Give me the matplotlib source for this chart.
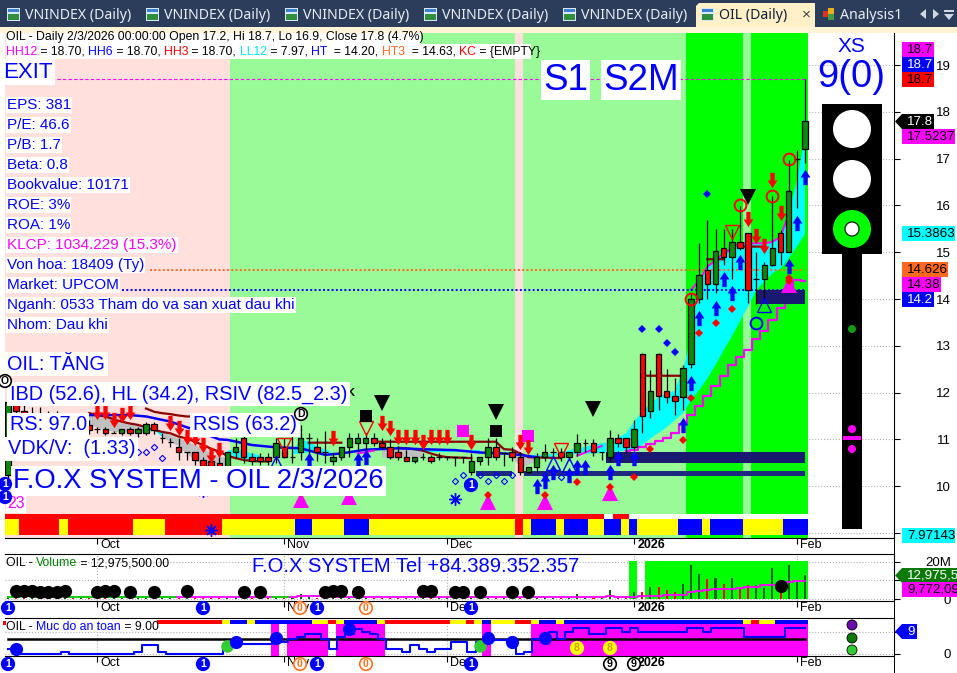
import numpy as np
import matplotlib
matplotlib.use("Agg")
import matplotlib.pyplot as plt
from matplotlib.path import Path
from matplotlib.patches import Rectangle, Circle, Polygon
from matplotlib.transforms import ScaledTranslation

plt.rcParams['font.family'] = ['Liberation Sans', 'DejaVu Sans']
nan = float('nan')

# ---------- data ----------
opens = [10.24,11.8,11.6,11.5,11.55,11.4,11.45,11.3,11.35,11.3,11.31,11.22,11.22,11.14,11.13,11.22,11.13,11.13,11.32,11.02,
 10.95,10.83,10.72,10.72,10.55,10.53,10.5,10.42,10.72,11.02,10.62,10.62,10.62,10.62,10.83,10.62,10.72,11.02,10.83,10.72,
 10.53,10.62,10.83,10.92,10.92,11.02,10.92,10.83,10.72,10.62,10.53,10.62,10.62,10.62,10.62,10.62,10.62,10.31,10.53,10.62,
 10.83,10.70,10.72,10.62,10.31,10.42,10.62,10.72,10.72,10.62,10.72,10.92,10.92,10.72,10.62,11.02,11.02,10.83,12.82,11.61,
 12.82,12.03,11.93,11.91,12.62,14.01,14.61,14.31,15.10,14.9,15.21,15.4,14.42,14.42,14.72,15.4,15.01,17.0,17.2]
highs = [11.9,11.9,11.8,11.7,11.7,11.6,11.6,11.5,11.5,11.45,11.41,11.27,11.27,11.17,11.22,11.27,11.27,11.38,11.38,11.13,
 11.02,11.02,10.72,10.72,10.62,10.60,10.62,10.72,11.02,11.13,10.70,10.70,10.70,11.02,11.02,11.13,11.31,11.13,11.02,11.17,
 10.70,10.83,11.13,11.13,11.13,11.13,11.02,11.0,10.85,10.78,10.62,10.70,10.66,10.70,10.62,10.62,10.62,10.70,10.62,11.02,
 11.02,10.70,10.83,10.74,10.42,10.70,10.90,10.81,10.81,10.72,11.11,11.01,11.01,10.72,11.20,11.11,11.02,11.41,12.85,12.48,
 12.85,12.5,12.31,12.6,14.1,15.19,15.69,15.49,15.49,15.49,15.99,15.4,15.0,14.8,16.2,15.47,16.98,17.18,18.7]
lows = [10.1,11.5,11.4,11.3,11.3,11.2,11.2,11.1,11.2,11.1,11.11,11.14,11.09,11.13,11.09,11.09,11.06,11.09,11.11,10.93,
 10.84,10.56,10.56,10.45,10.28,10.2,10.2,10.3,10.60,10.49,10.45,10.45,10.45,10.49,10.60,10.49,10.56,10.60,10.53,10.49,
 10.45,10.56,10.62,10.78,10.78,10.85,10.80,10.58,10.55,10.53,10.50,10.55,10.50,10.55,10.55,10.43,10.49,10.24,10.45,10.45,
 10.55,10.43,10.53,10.24,10.28,10.31,10.53,10.62,10.53,10.55,10.65,10.72,10.65,10.56,10.53,10.83,10.70,10.78,11.13,11.45,
 11.63,11.77,11.52,11.63,12.53,13.92,14.01,14.13,14.73,14.43,15.05,13.91,13.9,14.0,14.7,14.73,15.01,15.94,16.9]
closes = [11.8,11.6,11.5,11.55,11.4,11.45,11.3,11.35,11.3,11.31,11.21,11.22,11.13,11.14,11.22,11.13,11.22,11.32,11.20,11.02,
 10.95,10.72,10.72,10.55,10.42,10.35,10.4,10.72,10.83,10.62,10.53,10.53,10.53,10.92,10.62,10.62,11.02,11.02,10.72,10.72,
 10.62,10.83,11.02,11.02,11.02,10.92,10.83,10.62,10.62,10.53,10.62,10.62,10.53,10.62,10.62,10.62,10.62,10.53,10.62,10.83,
 10.62,10.70,10.62,10.31,10.42,10.62,10.72,10.72,10.62,10.72,10.92,10.92,10.72,10.72,11.02,10.92,10.83,11.22,11.51,12.03,
 11.93,11.91,11.81,12.53,14.01,14.51,14.31,15.02,14.90,15.21,15.10,14.2,14.42,14.72,15.1,15.01,16.3,17.0,17.8]

regime = "p"*28 + "l"*35 + "p" + "l"*20 + "g"*7 + "l" + "g"*7
strip_upper = "r"*74 + "w" + "rr" + "w"*22
strip_lower = ("yy"+"r"*5+"y"+"r"*8+"y"*4+"r"*7+"y"*9+"bb"+"y"*4+"bbb"+"y"*18+"r"+"y"+"bbb"+"y"+"bbb"+"yy"+"bb"
               +"y"+"b"+"y"*5+"bbb"+"y"+"b"*4+"y"*5+"bbb")

stop_i = [17,18,19,20,21,22,23,nan,10,11,12,13,14,15,16,17,18,19,20,21,22,23,24,25,26,27,28,29,30,31,32,nan,
          37,41,nan,45,48,60,61,62,63,64,68,nan,48,49,50,51,52,53,54,57,nan,78,83,nan,86,88,nan,90,93]
stop_v = [11.66,11.59,11.56,11.54,11.51,11.49,11.49,nan,11.56,11.52,11.49,11.43,11.38,11.34,11.31,11.26,11.20,11.16,11.13,11.06,
          11.02,10.95,10.88,10.80,10.74,10.65,10.60,10.56,10.54,10.53,10.53,nan,10.93,10.93,nan,10.95,10.95,10.95,10.79,10.78,10.70,
          10.62,10.60,nan,10.82,10.81,10.79,10.76,10.70,10.65,10.62,10.60,nan,12.36,12.36,nan,14.85,14.85,nan,15.12,15.12]
blue_i = [10,15,17,20,23,26,27,30,33,36,39,41,44,48,51,55,58,62,65]
blue_v = [11.52,11.52,11.49,11.38,11.2,11.0,10.99,10.88,10.83,10.81,10.67,10.70,10.78,10.81,10.79,10.77,10.72,10.69,10.62]
step_i = list(range(76,99))
step_v = [10.76,10.77,10.83,10.9,10.97,11.02,11.13,11.32,11.52,11.72,11.93,12.15,12.36,12.59,12.75,12.92,13.14,13.32,13.55,13.8,13.91,14.41,14.38]
cloud_i = [18,19,20,nan,27,28,29,30,31,nan,35,36,37,38,39,40,nan,50,58,nan,64,67,nan,
           66,68,70,72,74,76,77,78,79,80,81,82,83,84,85,86,87,88,89,90,91,92,93,94,95,96,97,98]
cloud_up = [11.20,11.18,11.03,nan,10.76,10.78,10.75,10.70,10.66,nan,10.72,11.0,10.95,10.85,10.78,10.72,nan,10.78,10.78,nan,10.66,10.66,nan,
            10.67,10.72,10.81,10.88,10.95,11.13,11.38,11.59,11.77,11.91,11.98,12.04,12.48,13.2,14.4,14.69,14.83,14.97,15.08,15.19,15.19,15.19,15.19,15.22,15.33,15.83,16.54,17.52]
cloud_lo = [11.20,11.05,11.03,nan,10.72,10.62,10.58,10.55,10.60,nan,10.68,10.7,10.72,10.72,10.72,10.72,nan,10.72,10.72,nan,10.6,10.6,nan,
            10.65,10.67,10.69,10.70,10.72,10.76,10.79,10.88,11.02,11.14,11.26,11.41,11.56,11.84,12.06,12.3,12.59,12.91,13.2,13.52,13.84,14.19,14.37,14.55,14.65,14.87,15.12,15.39]
edge_i = [84,85,86,87,88,89,90,91,92,93,94,95,96]
edge_v = [14.2,14.4,14.69,14.83,14.97,15.08,15.19,15.19,15.19,15.19,15.22,15.33,15.83]
gray_i = [10,11,12,13,14,15,16,17,18,nan,19,20,21,22,23,24,25,26,27,nan,46,47,48,49,50,51,nan,62,63,64,65]
gray_up = [11.56,11.56,11.52,11.46,11.38,11.32,11.30,11.28,11.2,nan,11.14,11.1,11.02,10.97,10.88,10.8,10.7,10.63,10.6,nan,10.85,10.83,10.8,10.78,10.76,10.74,nan,10.7,10.66,10.62,10.6]
gray_lo = [11.31,11.25,11.2,11.16,11.15,11.15,11.15,11.15,11.18,nan,11.04,10.95,10.85,10.7,10.55,10.45,10.4,10.42,10.45,nan,10.62,10.58,10.6,10.62,10.62,10.62,nan,10.62,10.4,10.45,10.55]

down_i = [11,12,13,14,15,20,21,22,23,24,25,26,40,46,47,48,49,50,51,52,53,54,57,63,64,91,92,93,94,95]
down_v = [11.59,11.59,11.41,11.52,11.59,11.34,11.24,11.06,11.02,10.88,10.67,10.78,11.04,11.34,11.24,11.06,11.06,11.06,10.95,11.06,11.06,11.06,10.95,10.95,10.84,15.72,15.35,15.13,16.54,15.83]
up_i = [37,43,44,65,66,67,69,70,71,74,75,77,83,84,85,87,88,89,90,96,97,98]
up_v = [10.56,10.56,10.62,10.01,10.11,10.31,10.23,10.42,10.42,10.31,10.60,10.60,11.31,12.21,13.6,13.81,14.42,14.12,14.8,14.71,15.62,16.6]
tri_up_i = [33,67,69,93];  tri_up_v = [10.49,10.49,10.45,13.87]
tri_dn_i = [34,44,68,89];  tri_dn_v = [10.88,11.24,10.78,15.44]
blk_i = [46,60,72,91];     blk_v = [11.77,11.58,11.66,16.17]
blksq_i = [44,60];         blksq_v = [11.51,11.17]
magsq_i = [56,64];         magsq_v = [11.17,11.08]
odia_i = [16,17,18,19,55,56,58,59,60,61,62,66,68]
odia_v = [10.72,10.72,10.83,10.60,10.12,10.23,10.23,10.12,10.23,10.12,10.23,10.23,10.20]
sdia_i = [86,78,80,81,82]; sdia_v = [16.24,13.36,13.36,13.07,12.87]
rdia_i = [70,79,83,84,77,85,87,89,96]; rdia_v = [10.10,10.80,10.99,11.89,10.2,13.28,13.49,13.79,14.39]
magtri_i = [36,42,59,66,74,96]; magtri_v = [9.71,9.76,9.67,9.67,9.85,14.3]
rcirc_i = [84,90,94,96];   rcirc_v = [14.01,16.0,16.2,17.0]
bcirc_i = [92];            bcirc_v = [13.48]
snow_i = [24,25,55];       snow_v = [9.9,9.06,9.72]

volume = [1.2,0.8,0.6,1.0,0.7,0.5,0.9,1.4,0.6,0.7,0.5,0.9,1.1,0.6,0.5,0.8,0.7,0.6,1.0,0.9,0.5,0.6,0.5,0.4,0.7,0.6,0.5,0.8,0.9,0.6,0.5,0.7,0.6,1.3,0.8,0.7,2.5,0.9,0.6,0.7,
          0.5,0.6,0.8,0.5,0.6,0.7,0.5,0.6,0.5,0.4,0.6,0.5,0.7,0.6,0.5,0.6,0.7,0.8,0.5,0.7,0.6,0.5,0.7,0.6,0.5,0.8,1.3,0.6,0.7,0.5,2.5,0.8,0.7,0.6,4.9,0.7,0.9,
          4.0,4.0,6.7,6.7,4.9,4.0,8.1,18.4,13.7,10.8,11.2,8.1,11.2,6.1,7.6,7.6,6.1,16.6,3.1,18.4,9.4,13.0]
vol_ma = [1.3,1.3,1.4,1.4,1.3,1.3,1.2,1.5,1.3,1.2,1.2,1.2,1.1,1.1,1.2,1.2,1.2,1.1,1.1,1.2,1.1,1.2,1.1,1.1,1.2,1.1,1.1,1.2,1.3,1.2,1.1,1.1,1.1,1.2,1.2,1.2,1.4,1.5,1.4,1.4,
          1.3,1.3,1.2,1.2,1.3,1.2,1.1,1.1,1.2,1.2,1.3,1.2,1.2,1.1,1.1,1.0,1.1,1.1,1.1,1.1,1.1,1.1,1.1,1.2,1.2,1.2,1.3,1.2,1.1,1.2,1.3,1.2,1.2,1.2,1.4,1.3,1.3,
          1.3,1.5,1.7,1.8,1.9,2.0,2.2,3.6,4.2,4.8,5.2,5.4,5.6,6.1,6.4,6.7,7.4,7.8,8.5,9.2,9.6,9.77]
vol_bg = [77]+list(range(79,99))
vdot_i = [1,2,3,4,5,6,7,11,12,13,15,18,22,29,31,39,40,41,43,51,52,55,56,58,62,64,95]
vdot_v = [4.2,4.5,4.3,3.9,3.7,4.0,4.1,3.7,4.1,4.1,3.9,4.0,4.2,4.0,4.0,4.0,4.1,4.1,3.9,4.1,4.1,3.9,3.7,3.7,3.7,4.0,7.0]

safety = [2,2,0,0,0,0,0,1,0,0,0,0,0,0,0,0,1,3.6,3.6,1,0,0,0,0,0,0,0,4.2,3.9,3.9,3.9,3.9,3.9,5,5,6,7,8,8,6,
          2,7,8,10,9,8,6,2,2,1,3.6,2,1,2,2,5,5,1,5,6,5.6,5.6,5.6,0,1,6,7,9,6,9,10.5,10.5,8,8,10.5,10.5,9,10.5,9,9,
          9,9,9,9,10.5,10.5,9,10.5,10.5,10.5,10.5,7,7,7,7,7,10.5,10.5,10.5]
safe_strip = ("w"*19+"r"*8+"y"+"bb"+"y"+"b"*7+"yy"+"r"+"y"+"b"*4+"y"+"r"*8+"yy"+"r"+"y"+"b"+"yyy"+"rr"+"y"+"bb"+"y"
              +"b"*22+"y"+"r"+"yy"+"bbbb")
safe_mag = [33,35,36,37,38,39,41,42,43,44,45,46,59]+list(range(65,99))
safe_blue_i = [1,28,33,42,59,62,66]; safe_blue_v = [2.2,4.7,6.6,10,6.6,4.7,6.5]
safe_green_i = [27,58];              safe_green_v = [3.4,3.4]
safe_line_i = [0,98];                safe_line_v = [6,6]

month_pos = [11,34,54,77,97]
month_lab = ["Oct","Nov","Dec","2026","Feb"]
price_ticks = list(range(9,20))
price_labs = [""]+[str(v) for v in range(10,20)]
stat_lines = ["EPS: 381","P/E: 46.6","P/B: 1.7","Beta: 0.8","Bookvalue: 10171","ROE: 3%","ROA: 1%","KLCP: 1034.229 (15.3%)",
              "Von hoa: 18409 (Ty)","Market: UPCOM","Nganh: 0533 Tham do va san xuat dau khi","Nhom: Dau khi"]

# ---------- layout ----------
W, H = 957, 673
fig = plt.figure(figsize=(W/100, H/100), dpi=100, facecolor='white')
def mk(y0, y1):
    return fig.add_axes([5/W, 1-y1/H, (894-5)/W, (y1-y0)/H])
ax = mk(33, 538); av = mk(554, 601); asf = mk(618, 656)
XL = (-0.34, 108.94)
COL = {'r':'#ff0000','y':'#ffff00','b':'#0000ff','w':'#ffffff'}
BG = {'p':'#ffe0dc','l':'#98fb98','g':'#00ff00'}
OFF = -0.15
for a in (ax, av, asf):
    a.set_xlim(*XL)
    a.set_xticks(month_pos); a.set_xticklabels(month_lab, fontsize=9)
    a.tick_params(axis='x', length=4, width=0.8, pad=-3)
    for lab_ in a.get_xticklabels():
        lab_.set_ha('left')
        lab_.set_transform(lab_.get_transform()+ScaledTranslation(3/100,0,fig.dpi_scale_trans))
        if lab_.get_text()=="2026": lab_.set_fontweight('bold')
    a.yaxis.tick_right()
    a.tick_params(axis='y', length=4, width=0.8, labelsize=9.5, pad=37)
    a.grid(True, color='#b0b0b0', ls=':', lw=0.8, zorder=0)
    a.set_axisbelow(True)
    a.spines['left'].set_visible(False)
ax.spines['top'].set_visible(False)

def bands(a, idx, colors, y0, h, z=1):
    tr = a.get_xaxis_transform()
    a.bar(np.array(idx)+OFF, h, width=1.0, bottom=y0, color=colors, transform=tr,
          linewidth=0, antialiased=False, zorder=z)

n = len(closes); I = np.arange(n)
# --- main panel
bands(ax, I, [BG[c] for c in regime], 0, 1)
bands(ax, I, [COL[c] for c in strip_upper], 0.0376, 0.0099, 2)
bands(ax, I, [COL[c] for c in strip_lower], 0.0059, 0.0317, 2)
ax.fill_between(cloud_i, cloud_up, cloud_lo, color='#00ffff', lw=0, zorder=3)
ax.fill_between(gray_i, gray_up, gray_lo, color='#c0c0c0', lw=0, zorder=3)
ax.plot(stop_i, stop_v, color='#8b0000', lw=1.6, zorder=4)
ax.plot(blue_i, blue_v, color='#0000ff', lw=1.8, zorder=4)
ax.plot(step_i, step_v, color='#ff00ff', lw=1.6, drawstyle='steps-mid', zorder=4)
ax.plot(edge_i, edge_v, color='#ff00ff', lw=1.4, zorder=4)
ax.plot([43,45,nan,70,73],[10.70,10.76,nan,10.65,10.86], color='#ff00ff', lw=1.4, zorder=4)

ax.hlines(18.7, 6, 98, color='#ff00ff', lw=0.8, ls=(0,(3,2)), zorder=5)
ax.hlines(14.626, 17.5, 98, color='#ff6820', lw=1.4, ls=(0,(1,1.2)), zorder=5)
ax.hlines(14.2, 14, 98, color='#0000ff', lw=1.4, ls=(0,(1,1.2)), zorder=5)

navy = '#191970'
for (a0,a1,p0,p1,c) in [(73.5,98,10.5,10.72,navy),(57.5,62,10.22,10.32,'#1e2a80'),(63.5,98,10.22,10.32,'#1e2a80'),(92,98,13.9,14.2,navy)]:
    ax.add_patch(Rectangle((a0,p0),a1-a0,p1-p0,color=c,lw=0,zorder=5))

opens_, closes_ = np.array(opens), np.array(closes)
up = closes_ >= opens_
ccol = ['#0b8a0b' if u else '#ff0000' for u in up]
ax.vlines(I, lows, highs, color='black', lw=0.9, zorder=6)
body_b = np.minimum(opens_, closes_); body_h = np.abs(closes_-opens_)
ax.bar(I, body_h, bottom=body_b, width=0.68, color=ccol, edgecolor='black', linewidth=0.9, zorder=7)

arrow_dn = Path([(-0.28,1),(0.28,1),(0.28,0.0),(0.64,0.0),(0,-1),(-0.64,0.0),(-0.28,0.0),(-0.28,1)], closed=True)
arrow_up = Path([(-0.28,-1),(0.28,-1),(0.28,0.0),(0.64,0.0),(0,1),(-0.64,0.0),(-0.28,0.0),(-0.28,-1)], closed=True)
ax.plot(down_i, down_v, ls='none', marker=arrow_dn, ms=11, color='#ff0000', mew=0, zorder=8)
ax.plot(up_i, up_v, ls='none', marker=arrow_up, ms=11, color='#0000ff', mew=0, zorder=8)
ax.plot(tri_up_i, tri_up_v, ls='none', marker='^', ms=10, mfc='none', mec='#0000ff', mew=1, zorder=8)
ax.plot(tri_dn_i, tri_dn_v, ls='none', marker='v', ms=10, mfc='none', mec='#ff0000', mew=1, zorder=8)
ax.plot(blk_i, blk_v, ls='none', marker='v', ms=11, color='black', mew=0, zorder=8)
ax.plot(blksq_i, blksq_v, ls='none', marker='s', ms=8.5, color='black', mew=0, zorder=8)
ax.plot(magsq_i, magsq_v, ls='none', marker='s', ms=8.5, color='#ff00ff', mew=0, zorder=5)
ax.plot(odia_i, odia_v, ls='none', marker='D', ms=3.2, mfc='none', mec='#0000ff', mew=0.8, zorder=8)
ax.plot(sdia_i, sdia_v, ls='none', marker='D', ms=3.6, color='#0000ff', mew=0, zorder=8)
ax.plot(magtri_i, magtri_v, ls='none', marker='^', ms=11, color='#ff00ff', mew=0, zorder=8)
ax.plot(magtri_i, np.array(magtri_v)+0.14, ls='none', marker='D', ms=3.6, color='#ff0000', mew=0, zorder=9)
ax.plot(rdia_i, rdia_v, ls='none', marker='D', ms=3.6, color='#ff0000', mew=0, zorder=9)
ax.plot(rcirc_i, rcirc_v, ls='none', marker='o', ms=8.5, mfc='none', mec='#ff0000', mew=1.4, zorder=9)
ax.plot(bcirc_i, bcirc_v, ls='none', marker='o', ms=8.5, mfc='none', mec='#0000ff', mew=1.4, zorder=9)
ax.plot(snow_i, snow_v, ls='none', marker=(8,2,0), ms=9, mec='#0000ff', mew=1, zorder=9)
ax.set_yticks(price_ticks); ax.set_yticklabels(price_labs)
ax.set_xlim(*XL); ax.set_ylim(8.893, 19.684)

# --- volume panel
av.bar(np.array(vol_bg)+OFF, 20.5, width=1.0, color='#00ff00', linewidth=0, antialiased=False, zorder=1)
av.bar(I, volume, width=0.25, color=['#006400' if u else '#ff0000' for u in up], linewidth=0, zorder=3)
ma = np.array(vol_ma)
av.plot(I, ma, color='#ff00ff', lw=1.3, drawstyle='steps-mid', zorder=4)
gm = ma.copy(); gm[21:] = nan; gm[[33,34]] = ma[[33,34]]
av.plot(I, gm, color='#00e000', lw=1.3, drawstyle='steps-mid', zorder=4)
av.plot(vdot_i, vdot_v, ls='none', marker='o', ms=9.5, color='black', mew=0, zorder=5)
av.set_yticks([0,10,20]); av.set_yticklabels(['0','','20M'])
av.set_xlim(*XL); av.set_ylim(-1.08, 24.3)

# --- safety panel
bands(asf, safe_mag, ['#ff00ff']*len(safe_mag), 0, 0.842)
bands(asf, I, [COL[c] for c in safe_strip], 0.842, 0.105, 2)
asf.plot(safe_line_i, safe_line_v, color='black', lw=1.8, zorder=3)
asf.plot(I, safety, color='#0000ff', lw=1.5, drawstyle='steps-mid', zorder=4)
asf.plot(safe_green_i, safe_green_v, ls='none', marker='o', ms=9, color='#32cd32', mew=0, zorder=5)
asf.plot(safe_blue_i, safe_blue_v, ls='none', marker='o', ms=9.5, color='#0000ff', mew=0, zorder=6)
asf.set_yticks([0,9]); asf.set_yticklabels(['0',''])
asf.set_xlim(*XL); asf.set_ylim(-0.8, 14.4)
for a in (ax,av,asf):
    for lab_ in a.get_yticklabels():
        lab_.set_ha('right')

# ---------- overlay in pixels ----------
ov = fig.add_axes([0,0,1,1], zorder=20); ov.set_xlim(0,W); ov.set_ylim(H,0); ov.axis('off'); ov.patch.set_alpha(0)
def R(x0,y0,x1,y1,c,z=1):
    ov.add_patch(Rectangle((x0,y0),x1-x0,y1-y0,color=c,lw=0,zorder=z))
R(893.6,27,894.6,673,'black',1)
# tabs
NAVY='#2c3d5c'
R(0,0,W,27,NAVY); R(0,27,W,33,'#fff3d8')
def icon(x):
    R(x,8,x+13,21,'#d8e8f8',2); R(x+1,14,x+12,20,'#2f8f3f',3); R(x+1,9,x+12,12,'#3a7fd0',3)
for x in (7,146,285,424,563):
    icon(x)
    ov.text(x+18,15.5,"VNINDEX (Daily)",color='#e8edf5',fontsize=10.2,va='center',family='Noto Sans',zorder=4)
ov.add_patch(Polygon([(696,27),(696,6),(699,3),(815,3),(815,27)],color='#fff0c8',lw=0,zorder=2))
icon(701)
ov.text(719,15.5,"OIL (Daily)",color='#10203a',fontsize=10.2,fontweight='bold',va='center',family='Noto Sans',zorder=4)
ov.text(806,15,"×",color='#404040',fontsize=11,va='center',ha='center',zorder=4)
for (cx,cy,c) in [(826,14,'#e03020'),(831,11,'#e8b020'),(831,17,'#40a040')]:
    R(cx-3,cy-3,cx+3,cy+3,c,3)
ov.text(840,15.5,"Analysis1",color='#e8edf5',fontsize=10.2,va='center',family='Noto Sans',zorder=4)
ov.add_patch(Polygon([(926,9),(926,19),(920,14)],color='#d0d8e4',lw=0,zorder=4))
ov.add_patch(Polygon([(933,9),(933,19),(939,14)],color='#d0d8e4',lw=0,zorder=4))
R(944,10,954,12,'#d0d8e4',4); ov.add_patch(Polygon([(944,14),(954,14),(949,20)],color='#d0d8e4',lw=0,zorder=4))

# header
R(6,33,421,44,'white',2); R(6,44,531,59,'white',2)
def chain(x,y,parts,fs,z=5):
    t = ov.text(x,y,parts[0][0],color=parts[0][1],fontsize=fs,va='center',zorder=z)
    for s,c in parts[1:]:
        t = ov.annotate(s,xy=(1,0),xycoords=t,va='bottom',ha='left',color=c,fontsize=fs,zorder=z)
    return t
ov.text(6,37,"OIL - Daily 2/3/2026 00:00:00 Open 17.2, Hi 18.7, Lo 16.9, Close 17.8 (4.7%)",fontsize=8.8,va='center',color='black',zorder=5)
chain(6,52,[("HH12",'#ff00ff'),(" = 18.70, ",'k'),("HH6",'#0000ff'),(" = 18.70, ",'k'),("HH3",'#ff0000'),(" = 18.70, ",'k'),
            ("LL12",'#00e5ff'),(" = 7.97, ",'k'),("HT",'#0000ff'),("  = 14.20, ",'k'),("HT3",'#ff6820'),("  = 14.63, ",'k'),("KC",'#ff0000'),(" = {EMPTY}",'k')],8.8)
def lab(x,y,s,fs,c='#0000ff',pad=0.8):
    ov.text(x,y,s,color=c,fontsize=fs,va='center',ha='left',zorder=6,
            bbox=dict(boxstyle=f'square,pad={pad/fs:.3f}',fc='white',ec='none'))
lab(3,72,"EXIT",16,pad=1.5)
for k,s in enumerate(stat_lines):
    lab(7,105+20*k,s,10.95,'#ff00ff' if s.startswith('KLCP') else '#0000ff')
lab(7,364,"OIL: TĂNG",14.3,pad=2)
lab(9.5,394,"IBD (52.6), HL (34.2), RSIV (82.5_2.3)",14.3,pad=2)
lab(9.5,425,"RS: 97.0",14.3,pad=2)
lab(193,425,"RSIS (63.2)",14.3,pad=2)
lab(8,449,"VDK/V:  (1.33)",14.3,pad=2)
lab(13,481,"F.O.X SYSTEM - OIL 2/3/2026",19.7,pad=1.5)
lab(7,504,"23",11.5,'#ff00ff',pad=1)
lab(543,80,"S1",26.5,pad=1.5)
lab(603,80,"S2M",26.5,pad=1.5)
ov.text(851,47,"XS",color='#0000ff',fontsize=15,ha='center',va='center',zorder=6)
ov.text(851,77,"9(0)",color='#0000ff',fontsize=27.5,ha='center',va='center',zorder=6)
ov.text(252,567,"F.O.X SYSTEM Tel +84.389.352.357",color='#0000ff',fontsize=14.5,va='center',zorder=6)
chain(6,563,[("OIL - ",'k'),("Volume",'#008000'),(" = 12,975,500.00",'k')],8.8)
chain(6,627,[("OIL - ",'k'),("Muc do an toan",'#0000ff'),(" = 9.00",'k')],8.8)
R(3,621,6,625,'#ff0000',6)

# traffic light
R(822,104,882,254,'black',4); R(842,254,862,529,'black',4)
def C(x,y,r,fc,ec='none',lw=0,z=5):
    ov.add_patch(Circle((x,y),r,fc=fc,ec=ec,lw=lw,zorder=z))
C(852,129,19,'white'); C(852,179,19,'white'); C(852,229,19,'#00ff00'); C(852,229,7,'white','black',0.8,6)
C(852,329,4,'#149b14'); C(852,429,4,'#ff00ff'); C(852,449,4,'#ff00ff'); R(843,436,861,440,'#ff00ff',5)
C(852,625,5,'#6a0dad','black',0.6,6); C(852,638,5,'#0b7a0b','black',0.6,6); C(852,650,5,'#32cd32','black',0.6,6)

# right tags
def tag(y,x1,s,fc,tc='black',ptr=False,h=15,fs=9.6):
    R(902,y,x1,y+h,fc,5)
    if ptr: ov.add_patch(Polygon([(895,y+h/2),(902,y),(902,y+h)],color=fc,lw=0,zorder=5))
    ov.text(907,y+h/2+0.3,s,color=tc,fontsize=fs,va='center',zorder=6,clip_on=True)
tag(42,934,"18.7",'#ff00ff'); tag(57,934,"18.7",'#0000ff','white'); tag(72,934,"18.7",'#ff0000')
tag(114,934,"17.8",'black','white',True); tag(129,955,"17.5237",'#ff00ff')
tag(226,955,"15.3863",'#00ffff'); tag(262,948,"14.626",'#ff6820'); tag(277,941,"14.38",'#ff00ff'); tag(292,934,"14.2",'#0000ff','white')
tag(528,955,"7.97143",'#00ffff')
tag(568,957,"12,975,500",'#0b7a0b','white',True); tag(582,957,"9,772,095",'#ff00ff')
tag(624,917,"9",'#0000ff','white',True)

# badges
def badge(x,y,s,fc='#0000ff',tc='white',ec=None):
    C(x,y,6.3,fc,ec or fc,1.2,7)
    ov.text(x,y+0.3,s,color=tc,fontsize=7.6,fontweight='bold',ha='center',va='center',zorder=8)
for y in (608,664):
    badge(8,y,"1"); badge(203,y,"1"); badge(317,y,"1"); badge(471,y,"1")
    badge(300,y,"0",'white','#ff7020','#ff7020'); badge(366,y,"0",'white','#ff7020','#ff7020')
badge(610,664,"9",'white','black','black'); badge(634,664,"9",'white','black','black')
badge(577,648,"8",'#ffff00','#c8a000','#ffff00'); badge(610,648,"8",'#ffff00','#c8a000','#ffff00')
badge(471,485,"1"); badge(5,484,"1"); badge(5,497,"1"); badge(5,381,"O",'white','black','black')
badge(301,414,"D",'white','black','black')
ov.text(350,393,"K",fontsize=8,fontweight='bold',color='black',ha='center',va='center',zorder=5)

fig.savefig("out.png", dpi=100)
